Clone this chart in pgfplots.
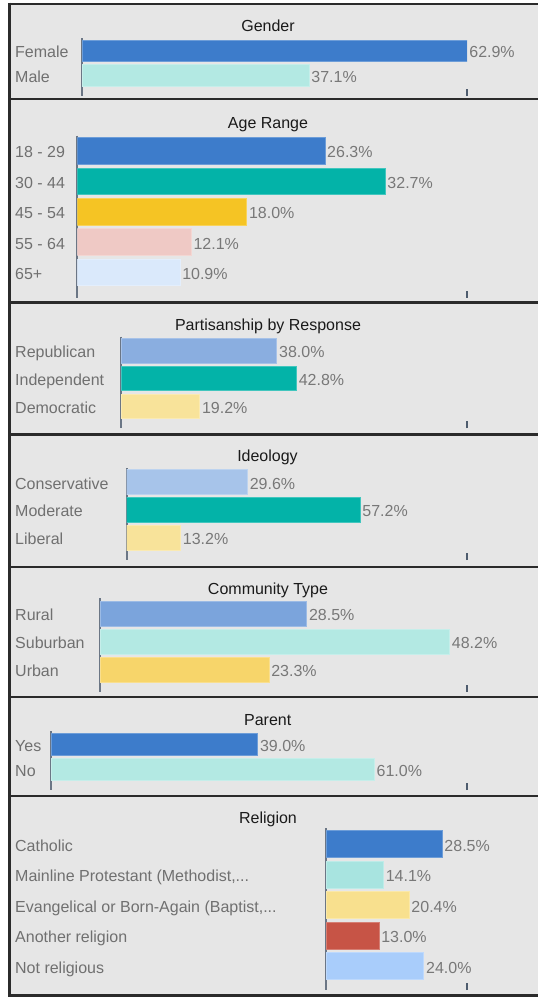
\documentclass[border=0pt]{standalone}
\usepackage{pgfplots}
\pgfplotsset{compat=1.18}
\usepackage{fontspec}
\setmainfont{Liberation Sans}
\definecolor{bg}{HTML}{E6E6E6}
\definecolor{bordc}{HTML}{2B2B2B}
\definecolor{labgray}{HTML}{707070}
\definecolor{valgray}{HTML}{787878}
\definecolor{titc}{HTML}{1A1A1A}
\definecolor{axisgray}{HTML}{6B7685}
\definecolor{tickc}{HTML}{4E5C6E}
\definecolor{cblue}{HTML}{3D7CCB}
\definecolor{cltteal}{HTML}{B3E9E3}
\definecolor{cteal}{HTML}{03B3A8}
\definecolor{cgold}{HTML}{F5C424}
\definecolor{cpink}{HTML}{EFC9C5}
\definecolor{cpale}{HTML}{DAE9FB}
\definecolor{crep}{HTML}{8AAEE0}
\definecolor{ccons}{HTML}{A7C4EA}
\definecolor{cly}{HTML}{F8E39A}
\definecolor{crural}{HTML}{7BA4DC}
\definecolor{curban}{HTML}{F7D56A}
\definecolor{cmain}{HTML}{A8E4E0}
\definecolor{cevan}{HTML}{F8E08E}
\definecolor{canot}{HTML}{C75446}
\definecolor{cnotr}{HTML}{A9CDFB}
\newcommand{\tf}{\fontsize{16pt}{19pt}\selectfont}
\pgfplotsset{
  panel/.style={
    scale only axis, xbar, bar shift=0pt,
    xmin=0, y dir=reverse,
    axis x line*=bottom, axis y line*=left,
    x axis line style={draw=none},
    y axis line style={draw=axisgray, line width=2pt},
    xticklabels={}, tick align=inside, major tick length=7pt,
    xtick style={draw=tickc, line width=2pt},
    ytick style={draw=none},
    yticklabel style={anchor=west, inner sep=0pt, text=labgray, font=\tf,
      text height=14pt, text depth=0pt},
    point meta=x,
    /pgf/number format/assume math mode=true,
    nodes near coords={\pgfmathprintnumber[fixed,fixed zerofill,precision=1,assume math mode=true]{\pgfplotspointmeta}\%},
    every node near coord/.style={anchor=west, inner sep=0pt, xshift=2pt,
      text=valgray, font=\tf, text height=14pt, text depth=0pt},
  },
  bb/.style={fill=#1, draw=#1!75!white, line width=0.7pt},
}
\begin{document}
\begin{tikzpicture}
\useasboundingbox (0pt,0pt) rectangle (538pt,-1001pt);
\fill[white] (0pt,0pt) rectangle (538pt,-1001pt);
\fill[bg] (9.5pt,-4pt) rectangle (538pt,-995.5pt);
\foreach \yy in {4,99,302.5,434.3,566.8,696.8,796,995.5}
  \draw[bordc, line width=2.6pt] (8.2pt,-\yy pt) -- (538pt,-\yy pt);
\draw[bordc, line width=2.6pt] (9.5pt,-2.7pt) -- (9.5pt,-996.8pt);

% titles
\node[anchor=base, text=titc, font=\tf] at (268pt,-31.5pt) {Gender};
\node[anchor=base, text=titc, font=\tf] at (268pt,-128.3pt) {Age Range};
\node[anchor=base, text=titc, font=\tf] at (268pt,-330pt) {Partisanship by Response};
\node[anchor=base, text=titc, font=\tf] at (267.5pt,-461.7pt) {Ideology};
\node[anchor=base, text=titc, font=\tf] at (268pt,-594.3pt) {Community Type};
\node[anchor=base, text=titc, font=\tf] at (267.7pt,-725pt) {Parent};
\node[anchor=base, text=titc, font=\tf] at (268pt,-823.3pt) {Religion};

% Gender
\begin{axis}[panel, at={(82pt,-96pt)}, anchor=south west,
  width=385pt, height=58pt, xmax=62.9, xtick={62.9},
  ymin=-0.52, ymax=1.83, bar width=21.5pt,
  ytick={0,1}, yticklabels={Female,Male},
  yticklabel style={xshift=-67pt}]
\addplot[bb=cblue] coordinates {(62.9,0)};
\addplot[bb=cltteal] coordinates {(37.1,1)};
\end{axis}

% Age Range
\begin{axis}[panel, at={(77.3pt,-297.7pt)}, anchor=south west,
  width=389.7pt, height=162pt, xmax=41.4, xtick={41.4},
  ymin=-0.50, ymax=4.83, bar width=26.7pt,
  ytick={0,1,2,3,4}, yticklabels={18 - 29,30 - 44,45 - 54,55 - 64,65+},
  yticklabel style={xshift=-62.3pt}]
\addplot[bb=cblue] coordinates {(26.3,0)};
\addplot[bb=cteal] coordinates {(32.7,1)};
\addplot[bb=cgold] coordinates {(18.0,2)};
\addplot[bb=cpink] coordinates {(12.1,3)};
\addplot[bb=cpale] coordinates {(10.9,4)};
\end{axis}

% Partisanship
\begin{axis}[panel, at={(121pt,-428.3pt)}, anchor=south west,
  width=346pt, height=91.6pt, xmax=84.4, xtick={84.4},
  ymin=-0.50, ymax=2.79, bar width=24.5pt,
  ytick={0,1,2}, yticklabels={Republican,Independent,Democratic},
  yticklabel style={xshift=-106pt}]
\addplot[bb=crep] coordinates {(38.0,0)};
\addplot[bb=cteal] coordinates {(42.8,1)};
\addplot[bb=cly] coordinates {(19.2,2)};
\end{axis}

% Ideology
\begin{axis}[panel, at={(126.7pt,-560pt)}, anchor=south west,
  width=340.3pt, height=91.7pt, xmax=83.4, xtick={83.4},
  ymin=-0.49, ymax=2.79, bar width=24.5pt,
  ytick={0,1,2}, yticklabels={Conservative,Moderate,Liberal},
  yticklabel style={xshift=-111.7pt}]
\addplot[bb=ccons] coordinates {(29.6,0)};
\addplot[bb=cteal] coordinates {(57.2,1)};
\addplot[bb=cly] coordinates {(13.2,2)};
\end{axis}

% Community Type
\begin{axis}[panel, at={(100pt,-691.7pt)}, anchor=south west,
  width=367pt, height=93.4pt, xmax=50.6, xtick={50.6},
  ymin=-0.55, ymax=2.79, bar width=24.5pt,
  ytick={0,1,2}, yticklabels={Rural,Suburban,Urban},
  yticklabel style={xshift=-85pt}]
\addplot[bb=crural] coordinates {(28.5,0)};
\addplot[bb=cltteal] coordinates {(48.2,1)};
\addplot[bb=curban] coordinates {(23.3,2)};
\end{axis}

% Parent
\begin{axis}[panel, at={(51pt,-790pt)}, anchor=south west,
  width=416pt, height=59pt, xmax=78.5, xtick={78.5},
  ymin=-0.53, ymax=1.83, bar width=21.7pt,
  ytick={0,1}, yticklabels={Yes,No},
  yticklabel style={xshift=-36pt}]
\addplot[bb=cblue] coordinates {(39.0,0)};
\addplot[bb=cltteal] coordinates {(61.0,1)};
\end{axis}

% Religion
\begin{axis}[panel, at={(326pt,-990pt)}, anchor=south west,
  width=141pt, height=161.7pt, xmax=34.6, xtick={34.6},
  ymin=-0.52, ymax=4.78, bar width=26.8pt,
  ytick={0,1,2,3,4}, yticklabels={Catholic,{Mainline Protestant (Methodist,.{}.{}.},{Evangelical or Born-Again (Baptist,.{}.{}.},Another religion,Not religious},
  yticklabel style={xshift=-311pt}]
\addplot[bb=cblue] coordinates {(28.5,0)};
\addplot[bb=cmain] coordinates {(14.1,1)};
\addplot[bb=cevan] coordinates {(20.4,2)};
\addplot[bb=canot] coordinates {(13.0,3)};
\addplot[bb=cnotr] coordinates {(24.0,4)};
\end{axis}
\end{tikzpicture}
\end{document}
